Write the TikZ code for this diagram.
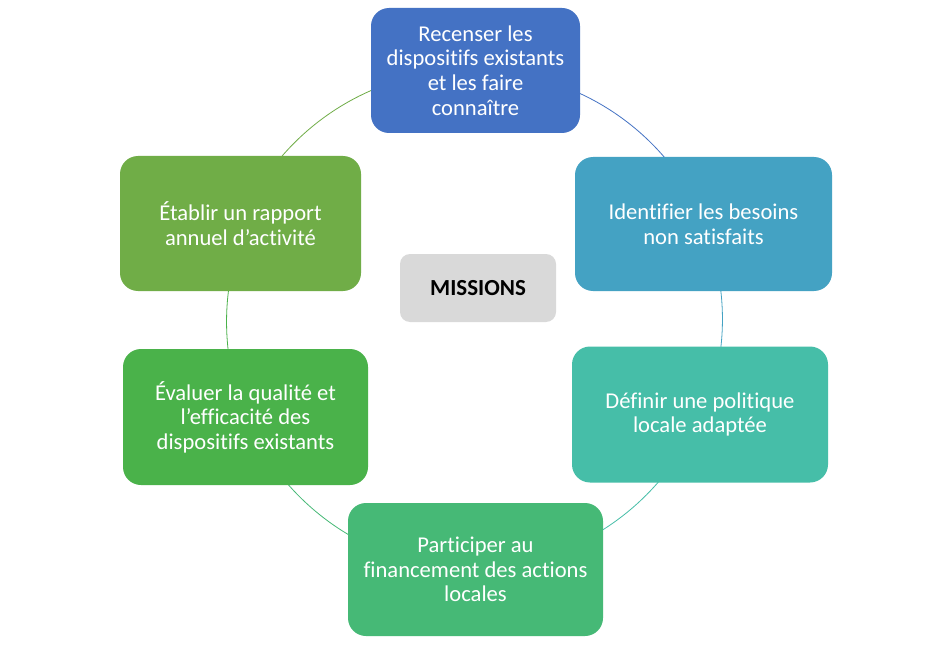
\documentclass[tikz,border=0pt]{standalone}
\usepackage{fontspec}
\setmainfont{Carlito}[Ligatures=NoCommon]
\usetikzlibrary{backgrounds}
\definecolor{cA}{HTML}{4472C4}
\definecolor{cB}{HTML}{44A2C3}
\definecolor{cC}{HTML}{46BEA8}
\definecolor{cD}{HTML}{46B976}
\definecolor{cE}{HTML}{4AB24A}
\definecolor{cF}{HTML}{70AD47}
\definecolor{cM}{HTML}{D9D9D9}
\begin{document}
\begin{tikzpicture}[x=1pt,y=-1pt,
  box/.style={rectangle,rounded corners=18pt,draw=none,text=white,align=center,
    font=\fontsize{22.6}{24.6}\selectfont,inner sep=0pt},
  arcline/.style={line width=0.8pt}]
\useasboundingbox (0,0) rectangle (927,650);
\node[box,fill=cA,minimum width=209pt,minimum height=125pt] (b1) at (475.5,70.5)
  {Recenser les\\dispositifs existants\\et les faire\\connaître};
\node[box,fill=cB,minimum width=257pt,minimum height=134pt] (b2) at (703.5,224)
  {Identifier les besoins\\non satisfaits};
\node[box,fill=cC,minimum width=256pt,minimum height=136pt] (b3) at (700,414.5)
  {Définir une politique\\locale adaptée};
\node[box,fill=cD,minimum width=255pt,minimum height=133pt] (b4) at (475.5,569.5)
  {Participer au\\financement des actions\\locales};
\node[box,fill=cE,minimum width=245pt,minimum height=136pt] (b5) at (245.5,417)
  {Évaluer la qualité et\\l’efficacité des\\dispositifs existants};
\node[box,fill=cF,minimum width=241pt,minimum height=135pt] (b6) at (240.5,223.5)
  {Établir un rapport\\annuel d’activité};
\node[box,fill=cM,text=black,rounded corners=10pt,minimum width=156pt,minimum height=68pt,
  font=\fontsize{23}{24}\selectfont\bfseries] (m) at (478,288) {MISSIONS};
\begin{scope}[on background layer]
\fill[white] (0,0) rectangle (927,650);
\draw[arcline,cA] (b1.center) arc[start angle=-90,end angle=-22.5,radius=249];
\draw[arcline,cB] (b2.center) arc[start angle=-22.5,end angle=22.5,radius=249];
\draw[arcline,cC] (b3.center) arc[start angle=22.5,end angle=90,radius=249];
\draw[arcline,cD] (b4.center) arc[start angle=90,end angle=157.5,radius=249];
\draw[arcline,cE] (b5.center) arc[start angle=157.5,end angle=202.5,radius=249];
\draw[arcline,cF] (b6.center) arc[start angle=202.5,end angle=270,radius=249];
\end{scope}
\end{tikzpicture}
\end{document}
